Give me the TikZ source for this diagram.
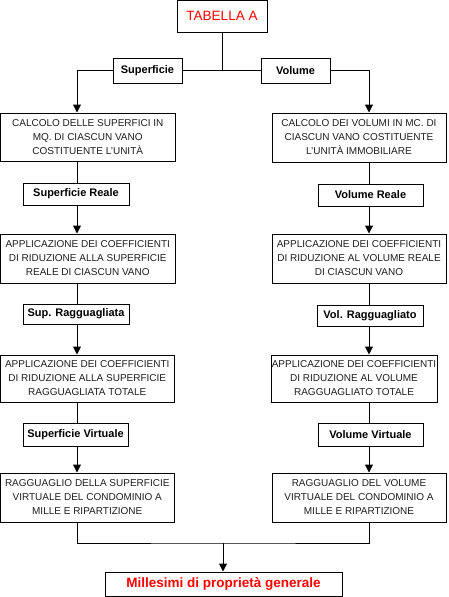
\documentclass[tikz,border=0pt]{standalone}
\usepackage{fontspec}
\setmainfont{Liberation Sans}
\usetikzlibrary{arrows.meta}
\definecolor{tred}{RGB}{255,0,0}
\definecolor{txt}{RGB}{30,30,30}
\tikzset{
  box/.style={draw, line width=1pt, inner sep=0pt, align=center, text=txt,
    font=\fontsize{10}{14}\selectfont},
  lab/.style={draw, line width=1pt, inner sep=0pt, align=center,
    font=\fontsize{11}{13}\selectfont\bfseries},
  con/.style={line width=1pt},
  arr/.style={line width=1pt, -{Triangle[width=8pt,length=8pt]}}
}
\begin{document}
\begin{tikzpicture}[x=1pt,y=-1pt]
\useasboundingbox (0,0) rectangle (448,597);
% top
\node[draw, line width=1pt, inner sep=0pt, minimum width=90pt, minimum height=31.5pt,
  text=tred, font=\fontsize{13.5}{15}\selectfont] (tab) at (222,16.25) {TABELLA A};
\node[lab, minimum width=69pt, minimum height=25pt] (sup) at (147.5,70.5) {Superficie};
\node[lab, minimum width=69pt, minimum height=25pt] (vol) at (295.5,70.5) {Volume};
\coordinate (j) at (222,70.5);
\coordinate (cl) at (77,0);
\coordinate (cr) at (369,0);
% left column
\node[box, minimum width=174.5pt, minimum height=48pt] (L1) at (87.75,137)
  {CALCOLO DELLE SUPERFICI IN\\MQ. DI CIASCUN VANO\\COSTITUENTE L'UNITÀ};
\node[lab, minimum width=106pt, minimum height=22pt] (SR) at (76,194) {Superficie Reale};
\node[box, minimum width=174.5pt, minimum height=49pt] (L2) at (87.75,258.5)
  {APPLICAZIONE DEI COEFFICIENTI\\DI RIDUZIONE ALLA SUPERFICIE\\REALE DI CIASCUN VANO};
\node[lab, minimum width=106pt, minimum height=20pt] (SRag) at (76,314) {Sup. Ragguagliata};
\node[box, minimum width=173.5pt, minimum height=47pt] (L3) at (87.25,378.5)
  {APPLICAZIONE DEI COEFFICIENTI\\DI RIDUZIONE ALLA SUPERFICIE\\RAGGUAGLIATA TOTALE};
\node[lab, minimum width=105pt, minimum height=23pt] (SV) at (75.5,434.5) {Superficie Virtuale};
\node[box, minimum width=173.5pt, minimum height=49pt] (L4) at (87.25,497.5)
  {RAGGUAGLIO DELLA SUPERFICIE\\VIRTUALE DEL CONDOMINIO A\\MILLE E RIPARTIZIONE};
% right column
\node[box, minimum width=174pt, minimum height=49pt] (R1) at (359,137.5)
  {CALCOLO DEI VOLUMI IN MC. DI\\CIASCUN VANO COSTITUENTE\\L'UNITÀ IMMOBILIARE};
\node[lab, minimum width=105pt, minimum height=22pt] (VR) at (370.5,195) {Volume Reale};
\node[box, minimum width=174pt, minimum height=49pt] (R2) at (359,258.5)
  {APPLICAZIONE DEI COEFFICIENTI\\DI RIDUZIONE AL VOLUME REALE\\DI CIASCUN VANO};
\node[lab, minimum width=106pt, minimum height=21pt] (VRag) at (370,315.5) {Vol. Ragguagliato};
\node[box, minimum width=166pt, minimum height=47pt] (R3) at (354,378.5)
  {APPLICAZIONE DEI COEFFICIENTI\\DI RIDUZIONE AL VOLUME\\RAGGUAGLIATO TOTALE};
\node[lab, minimum width=105pt, minimum height=23pt] (VV) at (370.5,434.5) {Volume Virtuale};
\node[box, minimum width=174pt, minimum height=49pt] (R4) at (359,497.5)
  {RAGGUAGLIO DEL VOLUME\\VIRTUALE DEL CONDOMINIO A\\MILLE E RIPARTIZIONE};
% bottom
\node[draw, line width=1pt, inner sep=0pt, minimum width=237pt, minimum height=24.5pt,
  text=tred, font=\fontsize{13.5}{15}\selectfont\bfseries] (mil) at (223.5,584.25)
  {Millesimi di proprietà generale};
\coordinate (b) at (223,543);
% connectors
\draw[con] (tab.south -| j) -- (j);
\draw[con] (sup.east) -- (vol.west);
\draw[arr] (sup.west) -| (L1.north -| cl);
\draw[arr] (vol.east) -| (R1.north -| cr);
\draw[con] (L1.south -| cl) -- (SR.north -| cl);
\draw[arr] (SR.south -| cl) -- (L2.north -| cl);
\draw[con] (L2.south -| cl) -- (SRag.north -| cl);
\draw[arr] (SRag.south -| cl) -- (L3.north -| cl);
\draw[con] (L3.south -| cl) -- (SV.north -| cl);
\draw[arr] (SV.south -| cl) -- (L4.north -| cl);
\draw[con] (R1.south -| cr) -- (VR.north -| cr);
\draw[arr] (VR.south -| cr) -- (R2.north -| cr);
\draw[con] (R2.south -| cr) -- (VRag.north -| cr);
\draw[arr] (VRag.south -| cr) -- (R3.north -| cr);
\draw[con] (R3.south -| cr) -- (VV.north -| cr);
\draw[arr] (VV.south -| cr) -- (R4.north -| cr);
\draw[con] (L4.south -| cl) |- (b) -| (R4.south -| cr);
\draw[arr] (b) -- (mil.north -| b);
\end{tikzpicture}
\end{document}
